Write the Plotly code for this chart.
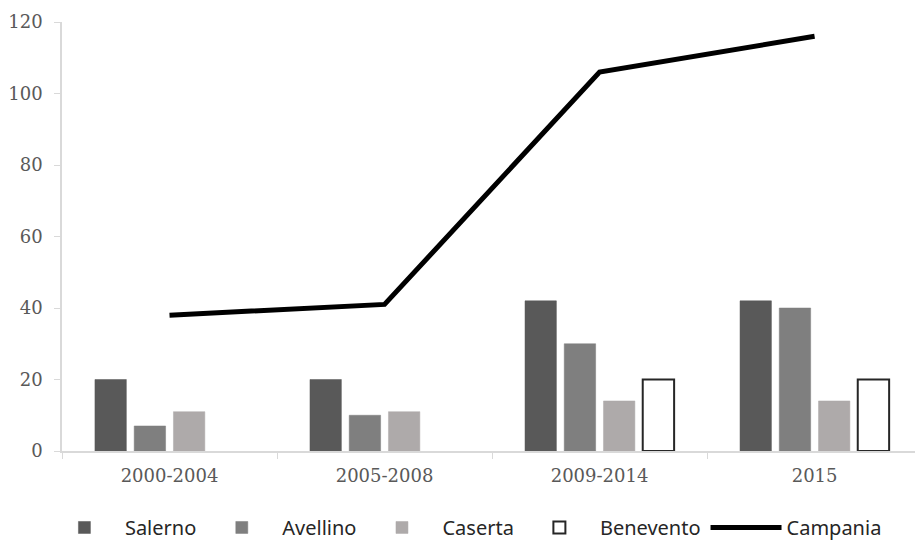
import plotly.graph_objects as go

categories = ["2000-2004", "2005-2008", "2009-2014", "2015"]
salerno = [20, 20, 42, 42]
avellino = [7, 10, 30, 40]
caserta = [11, 11, 14, 14]
benevento = [None, None, 20, 20]
campania = [38, 41, 106, 116]
y_ticks = [0, 20, 40, 60, 80, 100, 120]

fig = go.Figure()
fig.add_trace(go.Bar(name="Salerno", x=categories, y=salerno,
                     marker=dict(color="#595959", line=dict(color="#595959", width=0.5))))
fig.add_trace(go.Bar(name="Avellino", x=categories, y=avellino,
                     marker=dict(color="#7f7f7f", line=dict(color="#7f7f7f", width=0.5))))
fig.add_trace(go.Bar(name="Caserta", x=categories, y=caserta,
                     marker=dict(color="#aeaaaa", line=dict(color="#aeaaaa", width=0.5))))
fig.add_trace(go.Bar(name="Benevento", x=categories, y=benevento,
                     marker=dict(color="white", line=dict(color="#262626", width=2))))
fig.add_trace(go.Scatter(name="Campania", x=categories, y=campania, mode="lines",
                         line=dict(color="black", width=5)))

fig.update_layout(
    width=915, height=541,
    margin=dict(l=62, r=0, t=22, b=90),
    paper_bgcolor="white", plot_bgcolor="white",
    barmode="group", bargap=0.27, bargroupgap=0.2,
    showlegend=True,
    legend=dict(orientation="h", xref="container", x=0.048, xanchor="left",
                yref="container", y=0.025, yanchor="middle",
                font=dict(family="Noto Sans", size=20, color="#262626"),
                itemwidth=71, traceorder="normal"),
    xaxis=dict(range=[-0.5, 3.467], showline=True, linecolor="#d9d9d9", linewidth=1.5,
               ticks="outside", tickson="boundaries", ticklen=6, tickcolor="#d9d9d9",
               tickfont=dict(family="DejaVu Serif", size=18, color="#595959"),
               ticklabelstandoff=8,
               showgrid=False, zeroline=False, automargin=False),
    yaxis=dict(range=[0, 120], tickvals=y_ticks, showline=True, linecolor="#d9d9d9",
               linewidth=1.5, ticks="outside", ticklen=6, tickcolor="#d9d9d9",
               tickfont=dict(family="DejaVu Serif", size=18, color="#595959"),
               ticklabelstandoff=8, showgrid=False, zeroline=False, automargin=False),
)

fig.write_html("out.html")
